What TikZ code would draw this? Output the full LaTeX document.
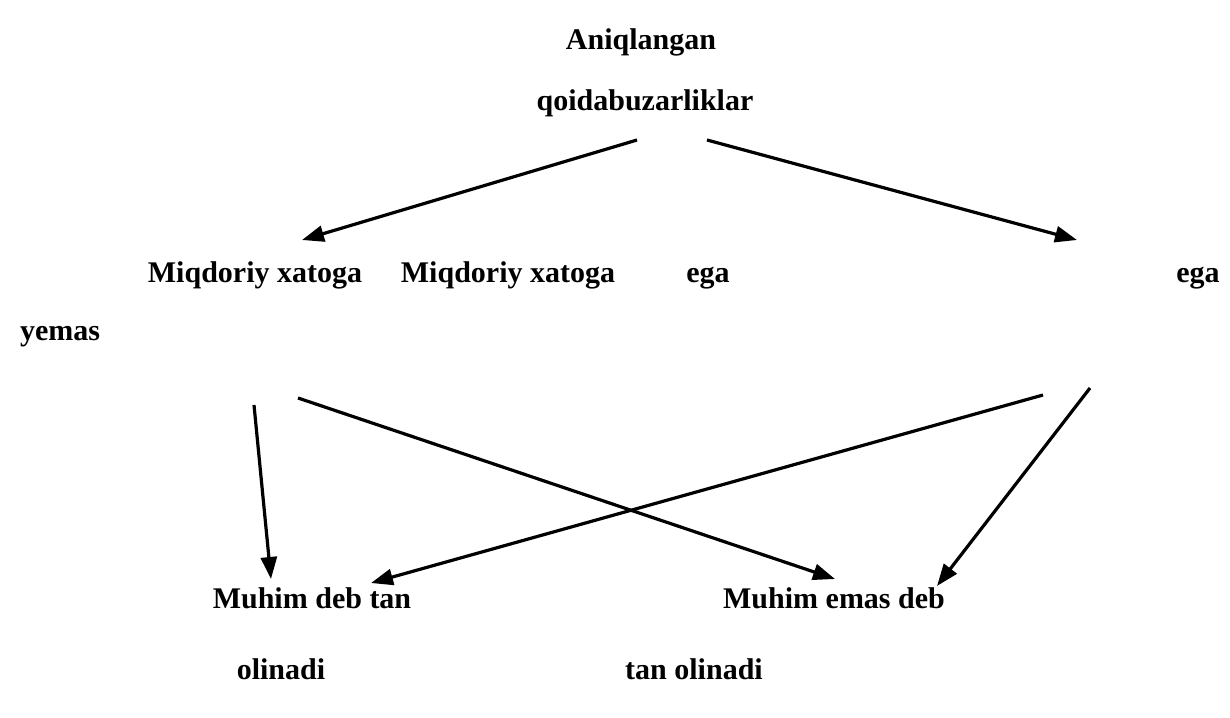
\documentclass[tikz,border=0pt]{standalone}
\usepackage{fontspec}
\setmainfont{Liberation Serif}
\usetikzlibrary{arrows.meta}
\begin{document}
\begin{tikzpicture}[x=1pt,y=-1pt,
  lbl/.style={font=\fontsize{30}{35}\selectfont\bfseries, inner sep=0pt, anchor=base},
  arr/.style={line width=3.2pt, -{Triangle[length=22pt,width=16pt]}}]
\useasboundingbox (0,0) rectangle (1230,717);
\node[lbl] (t1) at (641,50) {Aniqlangan};
\node[lbl] (t2) at (645,110) {qoidabuzarliklar};
\node[lbl] (m1) at (255,282) {Miqdoriy xatoga};
\node[lbl] (m2) at (508,282) {Miqdoriy xatoga};
\node[lbl] (e1) at (708,282) {ega};
\node[lbl] (e2) at (1198,282) {ega};
\node[lbl] (y1) at (60,340) {yemas};
\node[lbl] (b1) at (312,608) {Muhim deb tan};
\node[lbl] (b2) at (281,679) {olinadi};
\node[lbl] (c1) at (834,608) {Muhim emas deb};
\node[lbl] (c2) at (694,679) {tan olinadi};
\coordinate (s1) at (637,140); \coordinate (d1) at (302,240);
\coordinate (s2) at (707,140); \coordinate (d2) at (1077,240);
\coordinate (s3) at (254,405); \coordinate (d3) at (271,579);
\coordinate (s4) at (298,398); \coordinate (d4) at (835,579);
\coordinate (s5) at (1043,395); \coordinate (d5) at (371,583);
\coordinate (s6) at (1090,388); \coordinate (d6) at (937,586);
\draw[arr] (s1) -- (d1);
\draw[arr] (s2) -- (d2);
\draw[arr] (s3) -- (d3);
\draw[arr] (s4) -- (d4);
\draw[arr] (s5) -- (d5);
\draw[arr] (s6) -- (d6);
\end{tikzpicture}
\end{document}
